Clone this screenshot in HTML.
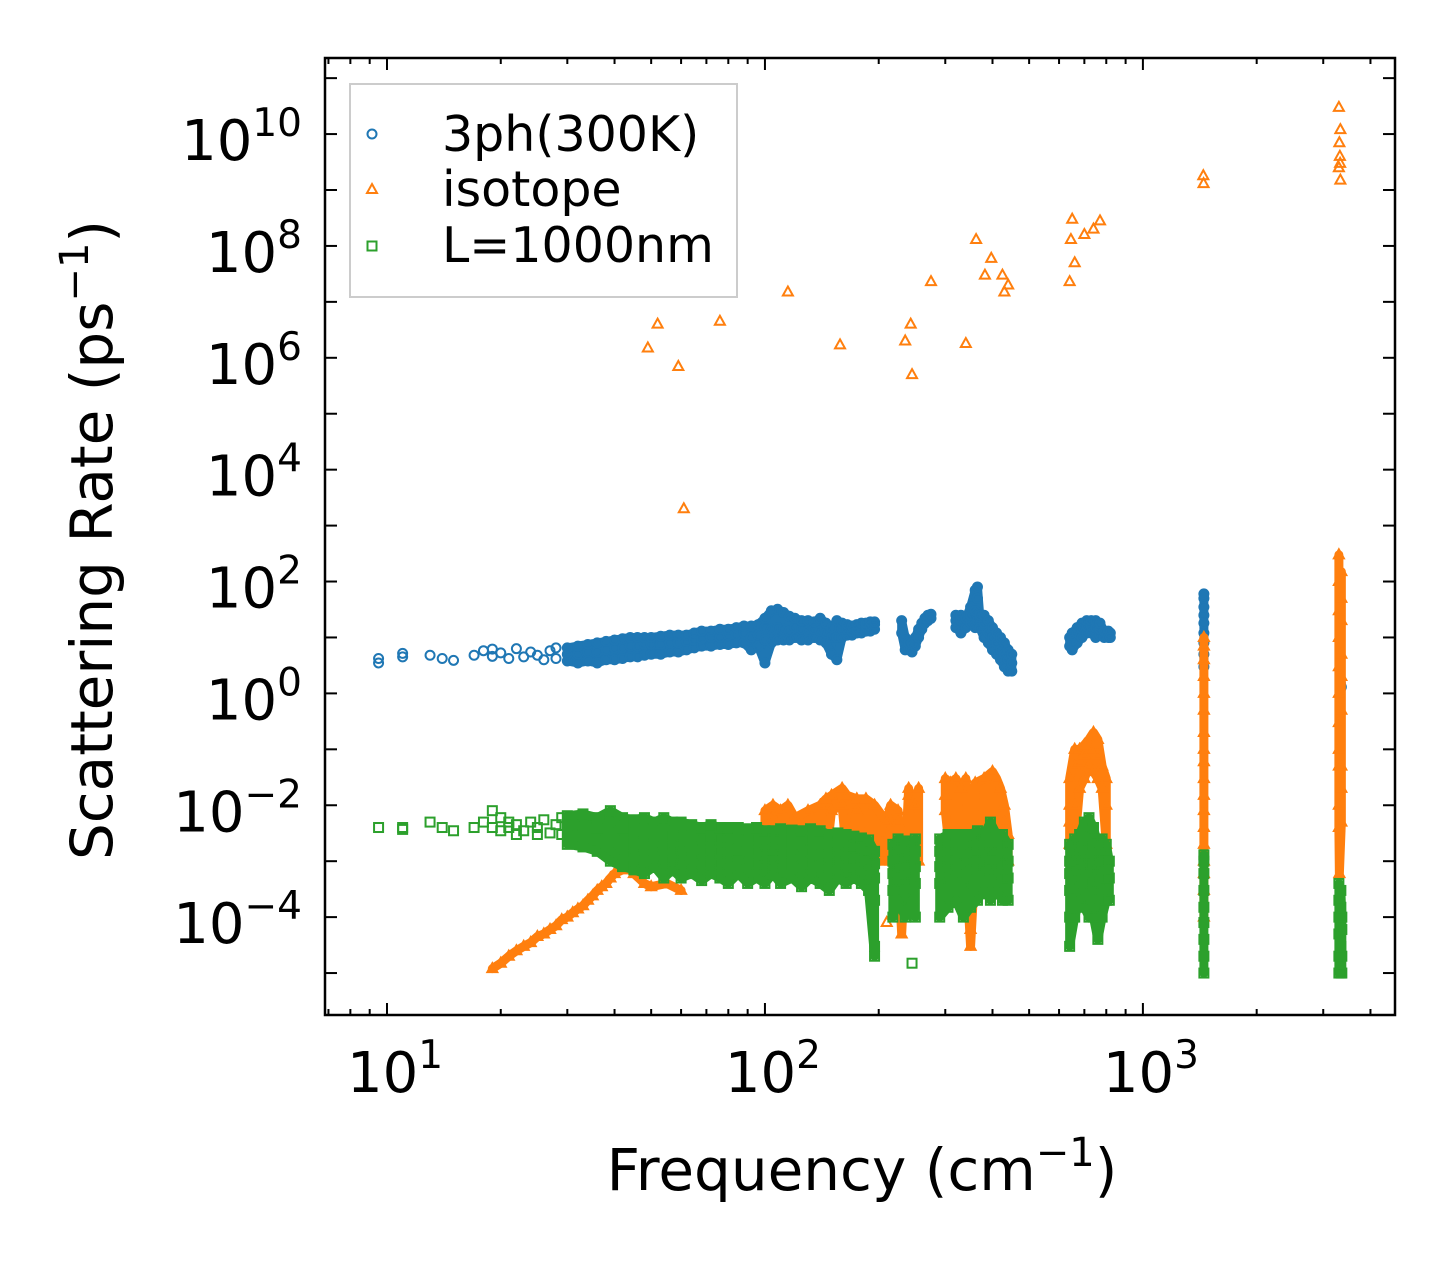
<!DOCTYPE html>
<html><head><meta charset="utf-8"><style>
html,body{margin:0;padding:0;background:#fff}
svg{display:block;font-family:"DejaVu Sans","Liberation Sans",sans-serif}
</style></head><body>
<svg id="chart" width="1455" height="1265" viewBox="0 0 1455 1265">
<rect width="1455" height="1265" fill="#fff"/>
<g id="marks"></g>
<g id="axes"></g>
<text x="862" y="1190" font-size="58" text-anchor="middle">Frequency (cm<tspan font-size="40" dy="-24">−1</tspan><tspan dy="24">)</tspan></text>
<text transform="translate(112,540) rotate(-90)" font-size="58" text-anchor="middle">Scattering Rate (ps<tspan font-size="40" dy="-24">−1</tspan><tspan dy="24">)</tspan></text>
<g>
<rect x="350" y="84" width="387" height="213" fill="#fff" fill-opacity="0.8" stroke="#ccc" stroke-width="2"/>
<circle cx="372" cy="134" r="4.5" fill="none" stroke="#1f77b4" stroke-width="2"/>
<text x="442" y="151" font-size="49">3ph(300K)</text>
<path d="M372,184 L377,193 L367,193 Z" fill="none" stroke="#ff7f0e" stroke-width="2"/>
<text x="442" y="206" font-size="49">isotope</text>
<rect x="367.5" y="241.5" width="9" height="9" fill="none" stroke="#2ca02c" stroke-width="2"/>
<text x="442" y="262" font-size="49">L=1000nm</text>
</g>
</svg>
<script>
const xTickExps=[1,2,3];
const yTickExps=[-4,-2,0,2,4,6,8,10];
const blueF=[9.5,11,13,14,15,17,18,19,20,21,22,23,24,25,26,27,28,30,32,34,36,38,40,42,44,46,48,50,53,56,59,62,65,68,72,76,80,84,88,92,96,100,104,108,112,116,120,125,130,135,140,145,150,155,160,165,170,175,180,185,190,195,230,235,240,245,250,255,260,265,270,275,320,330,340,350,360,365,370,380,390,400,410,420,430,440,450,640,650,670,690,710,730,750,770,790,810,820,1450,3330,3350];
const blueR=[[3.5,4.2],[4.5,5.2],[4.8],[4.2],[3.9],[4.8],[5.8],[6.2,4.6],[5.3],[4.2],[6.3],[4.5],[5.5],[4.8],[4],[5.8],[6.5,4.2],[3.8,5,6.5],[3.5,5,7],[3.8,5.5,7.5],[3.5,5.5,8],[4,6,8.5],[4,6.5,9],[4.2,6.5,9.5],[4.5,7,10],[4.5,7,10],[4.8,7.5,10],[5,7.5,10],[5,7.5,10.5],[5.5,8,11],[5.5,8,11],[6,8.5,11],[6.5,9,12],[7,9.5,13],[7,10,13],[7.5,10,14],[7.5,11,14],[8,11,15],[8,12,16],[6,10,16],[7,11,17],[3.5,9,15,22],[8,14,30],[9,15,32],[9,14,28],[9,13,24],[10,15,22],[9,14,20],[9,13,20],[10,14,19],[9,13,22],[8,12,18],[5,10,15],[4,10,20],[10,14,18],[11,14,17],[11,13,16],[12,14,17],[12,15,18],[13,16,18],[13,16,19],[14,17,19],[20,12],[10,6],[6,8],[5.5,8],[7,10],[10,14],[14,18],[18,22],[20,25],[22,26],[15,20,25],[12,20,25],[15,22],[18,25,35],[15,30,70],[20,50,80],[15,25],[10,18,25],[8,12,20],[6,10,15],[5,8,12],[4,6,10],[3,5,8],[2.5,4,6],[2.5,3.5,5],[7,10],[6,9,12],[8,12,15],[10,14,18],[12,16,20],[12,16,20],[10,15,20],[11,14,18],[10,13],[10,13],[10,12],[3,5,8,12,18,25,35,50,60],[1.2,1.5],[1.3]];
const orangeF=[19,20,21,22,23,24,25,26,27,28,29,30,31,32,33,34,35,36,37,38,39,40,42,44,45,48,49,50,52,55,59,60,61,76,100,105,110,115,120,130,140,145,150,158,160,165,175,185,195,210,215,225,230,235,240,243,245,250,255,275,300,310,320,330,340,350,360,362,380,382,397,400,410,420,425,430,440,640,645,650,660,680,700,720,740,760,770,780,800,1445,1447,1450,3300,3310,3320,3325,3330,3350];
const orangeR=[[1.2e-5],[1.5e-5],[2e-5],[2.5e-5],[3e-5],[3.5e-5],[4.5e-5],[5e-5],[6e-5],[7e-5],[9e-5],[1e-4],[1.2e-4],[1.4e-4],[1.6e-4],[2e-4],[2.4e-4],[3e-4],[3.5e-4],[4e-4],[5e-4],[6e-4],[7e-4],[9e-4],[6e-4],[4e-4],[1.5e6],[3.5e-4],[4e6],[4e-4],[7e5],[3e-4],[2e3],[4.5e6],[1e-3,4e-3,8e-3],[1e-3,6e-3,1e-2],[1e-3,8e-3],[1e-3,1e-2,1.5e7],[1e-3,6e-3],[1e-3,8e-3],[1e-3,1e-2],[1e-3,1.3e-2],[1e-3,1.5e-2,8e-3],[1.7e6],[1e-3,2e-2,1e-2],[1e-3,1.5e-2],[1e-3,8e-3,1.3e-2],[1e-3,1.3e-2],[1e-3,1e-2],[1e-3,3e-3,5e-3,8e-5],[1e-3,1e-2],[1e-3,5e-3,8e-3],[5e-5],[2e6],[1e-3,1.5e-2,2e-2],[4e6],[5e5,1e-3,1e-2],[1e-3,1e-2],[1e-3,2e-2],[2.3e7],[1e-3,3e-2,1.5e-2,8e-3],[1e-3,2.5e-2],[1e-3,3e-2],[1e-3,2e-2],[1e-3,3e-2,1.8e6],[6e-5,3e-5],[1e-3,2.5e-2],[1.3e8],[1e-3,3e-2],[3e7],[6e7],[1e-3,4e-2],[1e-3,3e-2],[1e-3,2e-2],[3e7],[1e-3,1e-2,5e-3,1.5e7],[1e-3,3e-3,2e7],[2e-3,5e-3,1e-2,3e-2,2.3e7],[1.3e8],[3e8],[2e-3,1e-2,5e-2,0.1,5e7],[2e-3,2e-2,6e-2,0.1],[2e-3,3e-2,0.08,0.12,1.6e8],[2e-3,0.05,0.15],[2e-3,0.04,0.1,0.2,2e8],[2e-3,0.03,0.08,0.15],[2.8e8],[2e-3,0.02,0.05],[2e-3,0.01,0.03],[1.8e9],[1.3e9],[1e-4,3e-4,6e-4,1e-3,2e-3,4e-3,8e-3,1.5e-2,3e-2,6e-2,0.1,0.2,0.5,1,2,4,7,10],[4e-3,1e-2,5e-2,0.1,0.3,1,3,10,30,100,300,3e10,2.5e9],[6e-4,7e9],[4e9],[3e9],[1.2e10,1.5e9],[5e-3,0.02,0.05,0.5,2,5,20,50,150]];
const greenF=[9.5,11,13,14,15,17,18,19,20,21,22,23,24,25,26,27,28,29,30,33,36,39,42,45,48,51,54,57,60,64,68,72,76,80,85,90,95,100,105,110,118,125,132,140,148,156,164,172,180,188,195,218,225,235,245,250,290,305,320,335,350,365,380,395,410,425,440,640,660,680,700,720,740,760,780,800,815,1450,3300,3340,3360];
const greenR=[[4e-3],[4e-3,3.7e-3],[5e-3],[4e-3],[3.5e-3],[4e-3],[5e-3],[8e-3,4e-3],[6e-3,3.5e-3],[4e-3,5e-3],[3e-3,4.5e-3],[3.5e-3],[5e-3],[3e-3,4e-3],[5.5e-3],[3.2e-3],[4.5e-3],[6e-3,3e-3],[2e-3,3e-3,4.5e-3,6.5e-3],[1.8e-3,3e-3,4.5e-3,7e-3],[1.5e-3,2.5e-3,4e-3,6e-3],[1e-3,2e-3,3.5e-3,5.5e-3,8e-3],[8e-4,1.5e-3,2.5e-3,4e-3,6e-3],[7e-4,1.2e-3,2e-3,3.5e-3,5.5e-3],[6e-4,1e-3,1.8e-3,3e-3,6e-3],[8e-4,1.3e-3,2e-3,3e-3,5e-3],[5e-4,1e-3,1.8e-3,3e-3,6e-3],[7e-4,1.2e-3,2e-3,3e-3,5e-3],[5e-4,9e-4,1.6e-3,2.8e-3,5e-3],[6e-4,1e-3,1.8e-3,3e-3,4.5e-3],[4.5e-4,9e-4,1.5e-3,2.5e-3,4e-3],[6e-4,1e-3,1.7e-3,2.8e-3,4.5e-3],[5e-4,9e-4,1.5e-3,2.5e-3,4e-3],[4e-4,8e-4,1.4e-3,2.5e-3,4e-3],[6e-4,1e-3,1.6e-3,2.6e-3,4e-3],[4e-4,8e-4,1.4e-3,2.3e-3,3.8e-3],[5e-4,9e-4,1.5e-3,2.5e-3,4e-3],[4e-4,8e-4,1.3e-3,2.2e-3,3.5e-3],[6e-4,1e-3,1.6e-3,2.5e-3,3.5e-3],[4e-4,8e-4,1.3e-3,2.2e-3,3.8e-3],[5e-4,9e-4,1.5e-3,2.4e-3,3.6e-3],[3.5e-4,8e-4,1.3e-3,2.2e-3,3.5e-3],[5e-4,9e-4,1.5e-3,2.5e-3,3.8e-3],[4e-4,8e-4,1.3e-3,2.2e-3,3.5e-3],[3e-4,7e-4,1.2e-3,2e-3,3e-3],[5e-4,9e-4,1.4e-3,2.2e-3,3.2e-3],[4e-4,8e-4,1.3e-3,2e-3,3e-3],[5e-4,8e-4,1.2e-3,1.9e-3,2.8e-3],[4e-4,7e-4,1.1e-3,1.8e-3,2.6e-3],[3e-4,6e-4,1e-3,1.6e-3,2.4e-3],[2e-5,3e-5,2e-4,5e-4,9e-4,1.5e-3],[1e-4,3e-4,6e-4,1e-3,2e-3],[2e-4,4e-4,8e-4,1.5e-3,2.5e-3],[1e-4,3e-4,6e-4,1.2e-3,2.3e-3],[1.5e-5,2e-4,5e-4,1e-3,2e-3],[1e-4,4e-4,8e-4,1.5e-3,2.5e-3],[1e-4,4e-4,8e-4,1.5e-3,2.5e-3],[1.5e-4,5e-4,1e-3,2e-3,3e-3],[2e-4,6e-4,1e-3,2e-3,3e-3],[1e-4,4e-4,9e-4,1.8e-3,3e-3],[1.5e-4,5e-4,1e-3,2e-3,3e-3],[2e-4,6e-4,1e-3,2e-3,3.5e-3],[3e-4,7e-4,1.2e-3,2e-3,3e-3],[2e-4,5e-4,1e-3,2e-3,3e-3,5e-3],[3e-4,6e-4,1e-3,2e-3,3e-3],[2e-4,5e-4,9e-4,1.8e-3,3e-3],[2e-4,5e-4,1e-3,2e-3],[3e-5,1e-4,3e-4,6e-4,1e-3,2e-3],[1e-4,3e-4,7e-4,1.3e-3,2.5e-3],[2e-4,5e-4,1e-3,2e-3,3e-3],[1.5e-4,4e-4,9e-4,1.8e-3,3e-3,5e-3],[1e-4,3e-4,8e-4,1.5e-3,3e-3,6e-3],[1e-4,4e-4,9e-4,2e-3,4e-3],[4e-5,2e-4,5e-4,1e-3,2e-3],[1e-4,3e-4,7e-4,1.3e-3,2.5e-3],[2e-4,5e-4,1e-3,2e-3],[2e-4,5e-4,1e-3],[1e-5,2e-5,4e-5,8e-5,1.5e-4,3e-4,6e-4,1e-3,1.3e-3],[1e-5,2e-5,5e-5,1e-4,2e-4,4e-4],[1e-5,3e-5,7e-5,1.5e-4,3e-4],[1e-5,2e-5,6e-5,1e-4]];

const NS='http://www.w3.org/2000/svg';
const L=325,R=1395,T=58,B=1015;
const XMIN=0.836,XMAX=3.667,YMIN=-5.75,YMAX=11.36;
function sx(v){return L+(Math.log10(v)-XMIN)/(XMAX-XMIN)*(R-L);}
function sy(v){return B-(Math.log10(v)-YMIN)/(YMAX-YMIN)*(B-T);}
function sxe(e){return L+(e-XMIN)/(XMAX-XMIN)*(R-L);}
function sye(e){return B-(e-YMIN)/(YMAX-YMIN)*(B-T);}
const marks=document.getElementById('marks');
const axes=document.getElementById('axes');
function mk(tag,attrs,parent){const el=document.createElementNS(NS,tag);for(const k in attrs)el.setAttribute(k,attrs[k]);parent.appendChild(el);return el;}

function drawDensity(F,Rs,color,name,fStart,rCap,gap){
  let seg=[];const segs=[];let prevF=null;
  F.forEach((f,i)=>{
    if(f<fStart)return;
    let vals=Rs[i].filter(r=>r<rCap).sort((a,b)=>a-b);
    // drop isolated low outliers (gap > 5x to next value) in multi-value groups
    while(vals.length>2&&vals[1]/vals[0]>5)vals.shift();
    if(!vals.length)return;
    if(prevF!==null&&f/prevF>gap){segs.push(seg);seg=[];}
    seg.push([f,vals[0],vals[vals.length-1]]);prevF=f;
  });
  if(seg.length)segs.push(seg);
  segs.forEach(s=>{
    const up=s.map(p=>sx(p[0])+','+sy(p[2]));
    const lo=s.slice().reverse().map(p=>sx(p[0])+','+sy(p[1]));
    const el=mk('polygon',{points:up.concat(lo).join(' '),fill:color,stroke:color,'stroke-width':9,'stroke-linejoin':'round'},marks);
    
    
  });
}
function drawSeries(F,Rs,kind,color,name){
  const g=mk('g',{},marks);
  
  
  F.forEach((f,i)=>{Rs[i].forEach(r=>{
    const x=sx(f),y=sy(r);let el;
    if(kind==='c'){el=mk('circle',{cx:x,cy:y,r:4.5,fill:'none',stroke:color,'stroke-width':2},g);}
    else if(kind==='t'){el=mk('path',{d:`M${x},${y-5.5}L${x+5},${y+3.5}L${x-5},${y+3.5}Z`,fill:'none',stroke:color,'stroke-width':2},g);}
    else{el=mk('rect',{x:x-4.5,y:y-4.5,width:9,height:9,fill:'none',stroke:color,'stroke-width':2},g);}
    
    
  });});
}
drawDensity(blueF,blueR,'#1f77b4','3ph',30,1e3,1.12);
drawSeries(blueF,blueR,'c','#1f77b4','3ph');
drawDensity(orangeF,orangeR,'#ff7f0e','isotope',19,1e3,1.12);
drawSeries(orangeF,orangeR,'t','#ff7f0e','isotope');
drawDensity(greenF,greenR,'#2ca02c','boundary',30,1e3,1.105);
drawSeries(greenF,greenR,'s','#2ca02c','boundary');

const fr=mk('rect',{x:L,y:T,width:R-L,height:B-T,fill:'none',stroke:'#000','stroke-width':2.5},axes);


for(let e=0;e<=3;e++){for(let m=1;m<=9;m++){
  const v=m*Math.pow(10,e);const lv=Math.log10(v);
  if(lv<XMIN||lv>XMAX)continue;
  const x=sx(v);const len=m===1?12:6;
  const t1=mk('line',{x1:x,x2:x,y1:B,y2:B-len,stroke:'#000','stroke-width':2},axes);
  
  
  const t2=mk('line',{x1:x,x2:x,y1:T,y2:T+len,stroke:'#000','stroke-width':2},axes);
  
  
}}
xTickExps.forEach(e=>{
  const t=mk('text',{x:sxe(e)+8,y:1092,'font-size':56,'text-anchor':'middle'},axes);
  
  
  t.innerHTML='10<tspan font-size="39" dy="-24">'+e+'</tspan>';
});
for(let e=-5;e<=11;e++){
  const y=sye(e);
  const a=mk('line',{x1:L,x2:L+12,y1:y,y2:y,stroke:'#000','stroke-width':2},axes);
  
  
  const b=mk('line',{x1:R,x2:R-12,y1:y,y2:y,stroke:'#000','stroke-width':2},axes);
  
  
}
yTickExps.forEach(e=>{
  const t=mk('text',{x:302,y:sye(e)+26,'font-size':56,'text-anchor':'end'},axes);
  
  
  const ex=e<0?'−'+(-e):''+e;
  t.innerHTML='10<tspan font-size="39" dy="-24">'+ex+'</tspan>';
});
</script>
</body></html>
